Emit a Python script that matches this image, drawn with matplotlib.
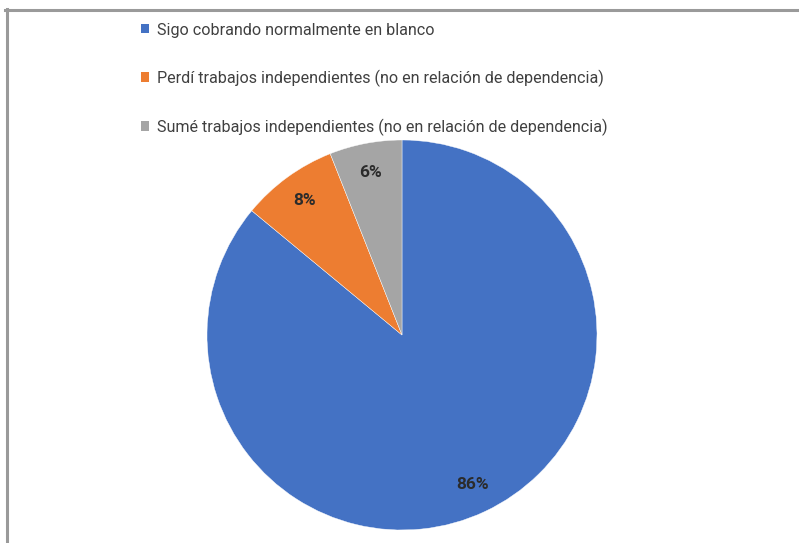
import matplotlib.pyplot as plt
from matplotlib.lines import Line2D

labels = ['Sigo cobrando normalmente en blanco',
          'Perdí trabajos independientes (no en relación de dependencia)',
          'Sumé trabajos independientes (no en relación de dependencia)']
values = [86, 8, 6]
colors = ['#4472C4', '#ED7D31', '#A5A5A5']

plt.rcParams['font.family'] = ['Roboto', 'DejaVu Sans']

W, H = 799, 543
fig = plt.figure(figsize=(W / 100, H / 100), dpi=100)

# pie centred at (402, 335) px, radius 195 px
cx, cy, r = 402, 335, 195
ax = fig.add_axes([(cx - r) / W, (H - cy - r) / H, 2 * r / W, 2 * r / H])
wedges, texts, autotexts = ax.pie(values, colors=colors, startangle=90, counterclock=False,
                                  autopct='%1.0f%%', pctdistance=0.85, radius=1,
                                  wedgeprops=dict(linewidth=0.3, edgecolor='white'),
                                  textprops=dict(fontsize=12.5, fontweight='bold', color='#2b2b2b'))
ax.set_xlim(-1, 1)
ax.set_ylim(-1, 1)
ax.set_aspect('equal')
ax.axis('off')

leg = fig.legend(wedges, labels, loc='upper left', bbox_to_anchor=(126 / W, 1 - 8 / H),
                 frameon=False, fontsize=11.6, handlelength=0.5, handleheight=0.5,
                 handletextpad=0.55, labelspacing=1.97, labelcolor='#404040')
for h in leg.legend_handles:
    h.set_linewidth(0)

# grey frame lines (top and left)
fig.add_artist(Line2D([5 / W, 1], [1 - 9.5 / H, 1 - 9.5 / H], transform=fig.transFigure,
                      color='#9a9a9a', linewidth=2.2))
fig.add_artist(Line2D([6.5 / W, 6.5 / W], [0, 1 - 8.5 / H], transform=fig.transFigure,
                      color='#9a9a9a', linewidth=2.2))

fig.savefig('out.png', dpi=100)
